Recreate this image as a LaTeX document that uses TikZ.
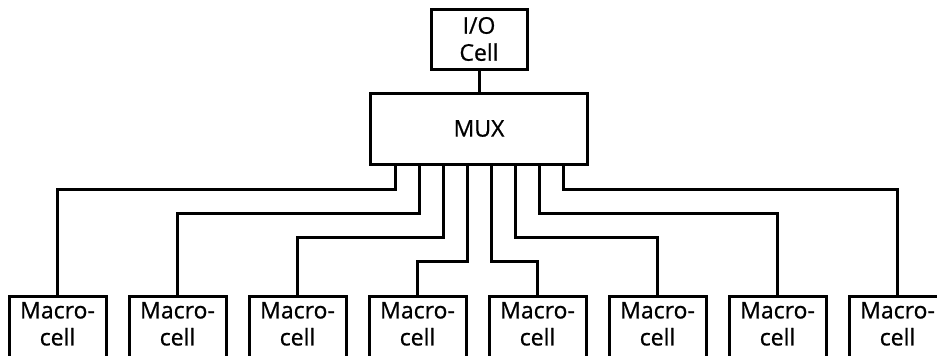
\documentclass[tikz,border=0pt]{standalone}
\usepackage{fontspec}
\setmainfont{Open Sans}[FakeBold=0.8]
\usepackage{tikz}
\usetikzlibrary{positioning}

\begin{document}
\begin{tikzpicture}[
      x=1pt, y=-1pt,
      font=\fontsize{23}{27}\selectfont,
      line width=3pt,
      cellbox/.style={
        draw, align=center, inner sep=0pt, outer sep=0pt,
        minimum width=96pt, minimum height=60pt
      },
      muxbox/.style={
        draw, inner sep=0pt, outer sep=0pt,
        minimum width=217pt, minimum height=71pt
      },
      macrobox/.style={
        draw, align=center, inner xsep=0pt, inner ysep=6pt, outer sep=0pt,
        minimum width=97pt, text depth=24pt
      },
      wire/.style={line width=3pt}
    ]
      \useasboundingbox (0,0) rectangle (937,356);
      \clip (0,0) rectangle (937,356);

      \node[cellbox]                           (io)  at (479,39) {I/O\\Cell};
      \node[muxbox,   below=24pt of io]        (mux) {MUX};

      \node[macrobox, anchor=north]            (m1)  at (57.5,296) {Macro-\\cell};
      \node[macrobox, right=23pt of m1]        (m2)  {Macro-\\cell};
      \node[macrobox, right=23pt of m2]        (m3)  {Macro-\\cell};
      \node[macrobox, right=23pt of m3]        (m4)  {Macro-\\cell};
      \node[macrobox, right=23pt of m4]        (m5)  {Macro-\\cell};
      \node[macrobox, right=23pt of m5]        (m6)  {Macro-\\cell};
      \node[macrobox, right=23pt of m6]        (m7)  {Macro-\\cell};
      \node[macrobox, right=23pt of m7]        (m8)  {Macro-\\cell};

      \draw[wire] (io.south) -- (mux.north);

      % taps under the MUX, fanned out to the macrocells
      \draw[wire] ([xshift=-84pt]mux.south) -- ++(0,25) -| (m1.north);
      \draw[wire] ([xshift=-60pt]mux.south) -- ++(0,49) -| (m2.north);
      \draw[wire] ([xshift=-36pt]mux.south) -- ++(0,73) -| (m3.north);
      \draw[wire] ([xshift=-12pt]mux.south) -- ++(0,97) -| (m4.north);
      \draw[wire] ([xshift=12pt]mux.south)  -- ++(0,97) -| (m5.north);
      \draw[wire] ([xshift=36pt]mux.south)  -- ++(0,73) -| (m6.north);
      \draw[wire] ([xshift=60pt]mux.south)  -- ++(0,49) -| (m7.north);
      \draw[wire] ([xshift=84pt]mux.south)  -- ++(0,25) -| (m8.north);
    \end{tikzpicture}
\end{document}
